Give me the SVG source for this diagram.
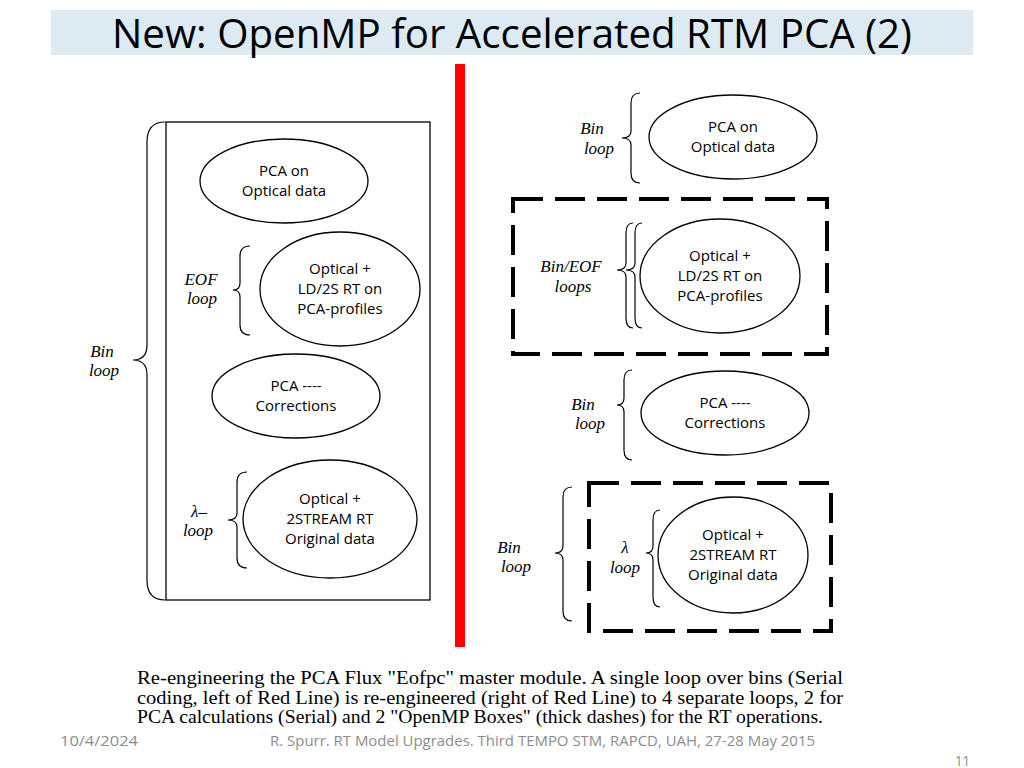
<svg xmlns="http://www.w3.org/2000/svg" width="1024" height="768" viewBox="0 0 1024 768">
<style>
.el{fill:#fff;stroke:#000;stroke-width:1.3}
.nt{font-family:"Open Sans","Liberation Sans",sans-serif;font-size:15px;fill:#000;text-anchor:middle}
.lp{font-family:"Liberation Serif",serif;font-style:italic;font-size:17px;fill:#000;text-anchor:middle}
.br{fill:none;stroke:#000;stroke-width:1.2}
.dash{fill:none;stroke:#000;stroke-width:4;stroke-dasharray:30 12}
.cap{font-family:"Liberation Serif",serif;font-size:19px;fill:#000}
.ft{font-family:"Open Sans","Liberation Sans",sans-serif;font-size:14px;fill:#8c8c8c}
</style>
<rect width="1024" height="768" fill="#fff"/>
<g id="title">
<rect x="51" y="10" width="922" height="45" fill="#dceaf4"/>
<text x="112" y="48" font-family="Open Sans, Liberation Sans, sans-serif" font-size="41" textLength="800" lengthAdjust="spacingAndGlyphs" fill="#000">New: OpenMP for Accelerated RTM PCA (2)</text>
</g>
<rect id="redline" x="455" y="64" width="10" height="583" fill="#ff0000"/>
<g id="left-box">
<rect x="166" y="122" width="264" height="478" fill="none" stroke="#000" stroke-width="1.3"/>
<path class="br" d="M165,122 Q147,122 147,142 L147,345 Q147,360 133,360 Q147,360 147,375 L147,580 Q147,600 165,600"/>
<text class="lp" x="102" y="357">Bin</text><text class="lp" x="104" y="376">loop</text>
</g>
<g id="L1">
<ellipse class="el" cx="284" cy="181" rx="84" ry="42"/>
<text class="nt" x="284" y="176">PCA on</text><text class="nt" x="284" y="196">Optical data</text>
</g>
<g id="L2">
<path class="br" d="M250,246 Q240,246 240,256 L240,283 Q240,290 233,290 Q240,290 240,297 L240,325 Q240,335 250,335"/>
<text class="lp" x="201" y="285">EOF</text><text class="lp" x="202" y="304">loop</text>
<ellipse class="el" cx="340" cy="289" rx="80" ry="57"/>
<text class="nt" x="340" y="274">Optical +</text><text class="nt" x="340" y="294">LD/2S RT on</text><text class="nt" x="340" y="314">PCA-profiles</text>
</g>
<g id="L3">
<ellipse class="el" cx="296" cy="396" rx="84" ry="42"/>
<text class="nt" x="296" y="391">PCA ----</text><text class="nt" x="296" y="411">Corrections</text>
</g>
<g id="L4">
<path class="br" d="M247,472 Q237,472 237,482 L237,513 Q237,520 228,520 Q237,520 237,527 L237,558 Q237,568 247,568"/>
<text class="lp" x="199" y="517">λ–</text><text class="lp" x="198" y="536">loop</text>
<ellipse class="el" cx="330" cy="519" rx="87" ry="59"/>
<text class="nt" x="330" y="504">Optical +</text><text class="nt" x="330" y="524">2STREAM RT</text><text class="nt" x="330" y="544">Original data</text>
</g>
<g id="R1">
<path class="br" d="M640,93 Q631,93 631,103 L631,131 Q631,138 622,138 Q631,138 631,145 L631,173 Q631,183 640,183"/>
<text class="lp" x="592" y="134">Bin</text><text class="lp" x="599" y="154">loop</text>
<ellipse class="el" cx="733" cy="137" rx="84" ry="42"/>
<text class="nt" x="733" y="132">PCA on</text><text class="nt" x="733" y="152">Optical data</text>
</g>
<g id="R2">
<path class="dash" d="M513,199 H827 V354 H513 Z"/>
<path class="br" d="M633,223 Q626,223 626,233 L626,263 Q626,270 617,270 Q626,270 626,277 L626,318 Q626,328 633,328"/>
<path class="br" d="M642,223 Q635,223 635,233 L635,263 Q635,270 626,270 Q635,270 635,277 L635,318 Q635,328 642,328"/>
<text class="lp" x="571" y="272">Bin/EOF</text><text class="lp" x="573" y="292">loops</text>
<ellipse class="el" cx="720" cy="276" rx="80" ry="57"/>
<text class="nt" x="720" y="261">Optical +</text><text class="nt" x="720" y="281">LD/2S RT on</text><text class="nt" x="720" y="301">PCA-profiles</text>
</g>
<g id="R3">
<path class="br" d="M632,370 Q624,370 624,380 L624,398 Q624,405 617,405 Q624,405 624,412 L624,450 Q624,460 632,460"/>
<text class="lp" x="583" y="410">Bin</text><text class="lp" x="590" y="429">loop</text>
<ellipse class="el" cx="725" cy="413" rx="84" ry="42"/>
<text class="nt" x="725" y="408">PCA ----</text><text class="nt" x="725" y="428">Corrections</text>
</g>
<g id="R4">
<path class="dash" d="M589,483 H831 V631 H589 Z"/>
<path class="br" d="M572,487 Q563,487 563,497 L563,546 Q563,553 555,553 Q563,553 563,560 L563,611 Q563,621 572,621"/>
<text class="lp" x="509" y="553">Bin</text><text class="lp" x="516" y="572">loop</text>
<path class="br" d="M660,510 Q653,510 653,520 L653,546 Q653,553 646,553 Q653,553 653,560 L653,597 Q653,607 660,607"/>
<text class="lp" x="625" y="553">λ</text><text class="lp" x="625" y="573">loop</text>
<ellipse class="el" cx="733" cy="555" rx="75" ry="58"/>
<text class="nt" x="733" y="540">Optical +</text><text class="nt" x="733" y="560">2STREAM RT</text><text class="nt" x="733" y="580">Original data</text>
</g>
<g id="caption">
<text class="cap" x="137" y="684" textLength="706" lengthAdjust="spacingAndGlyphs">Re-engineering the PCA Flux "Eofpc" master module. A single loop over bins (Serial</text>
<text class="cap" x="137" y="704" textLength="706" lengthAdjust="spacingAndGlyphs">coding, left of Red Line) is re-engineered (right of Red Line) to 4 separate loops, 2 for</text>
<text class="cap" x="137" y="723" textLength="686" lengthAdjust="spacingAndGlyphs">PCA calculations (Serial) and 2 "OpenMP Boxes" (thick dashes) for the RT operations.</text>
</g>
<g id="footer">
<text class="ft" x="60" y="746" textLength="78" lengthAdjust="spacingAndGlyphs">10/4/2024</text>
<text class="ft" x="270" y="746" textLength="545" lengthAdjust="spacingAndGlyphs">R. Spurr. RT Model Upgrades. Third TEMPO STM, RAPCD, UAH, 27-28 May 2015</text>
<text class="ft" x="955" y="766" textLength="15" lengthAdjust="spacingAndGlyphs">11</text>
</g>
</svg>
